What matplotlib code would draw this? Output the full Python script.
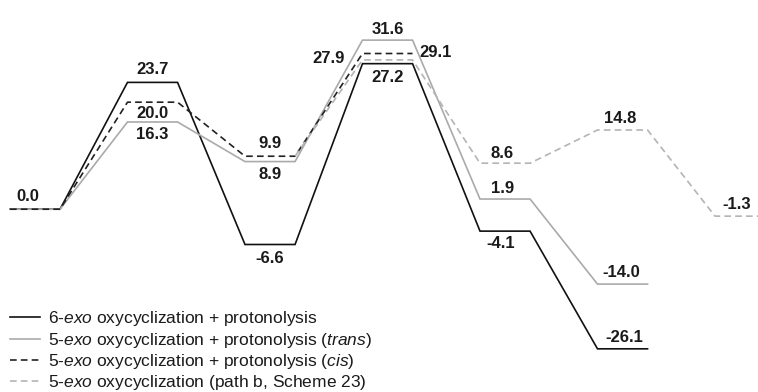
import numpy as np
import matplotlib
matplotlib.use("Agg")
import matplotlib.pyplot as plt

plt.rcParams['font.family'] = ['Liberation Sans', 'DejaVu Sans']
plt.rcParams['mathtext.fontset'] = 'custom'
plt.rcParams['mathtext.rm'] = 'Liberation Sans'
plt.rcParams['mathtext.it'] = 'Liberation Sans:italic'

nan = np.nan

# relative energies (kcal/mol) for each stationary point, per pathway
six_exo = [0.0, 23.7, -6.6, 27.2, -4.1, -26.1, nan]
trans_5exo = [0.0, 16.3, 8.9, 31.6, 1.9, -14.0, nan]
cis_5exo = [0.0, 20.0, 9.9, 29.1, nan, nan, nan]
path_b = [nan, nan, 9.9, 27.9, 8.6, 14.8, -1.3]

series_names = [
    "6-$\\mathit{exo}$ oxycyclization + protonolysis",
    "5-$\\mathit{exo}$ oxycyclization + protonolysis ($\\mathit{trans}$)",
    "5-$\\mathit{exo}$ oxycyclization + protonolysis ($\\mathit{cis}$)",
    "5-$\\mathit{exo}$ oxycyclization (path b, Scheme 23)",
]

half = 0.213  # half width of a level bar (stage units)


def build_path(vals, skip_first_level=False):
    xs, ys = [], []
    first = True
    for i, v in enumerate(vals):
        if np.isnan(v):
            continue
        if first and skip_first_level:
            # path b branches off the end of the cis intermediate
            xs += [i + half]
            ys += [v]
        else:
            xs += [i - half, i + half]
            ys += [v, v]
        first = False
    return xs, ys


fig = plt.figure(figsize=(7.58, 3.92), dpi=100)
ax = fig.add_axes([0, 0, 1, 1])
ax.set_xlim(-0.298, 6.153)
ax.set_ylim(-34.17, 39.10)
ax.axis('off')

styles = [
    dict(color='#111111', lw=1.2, ls='-'),
    dict(color='#aaaaaa', lw=1.2, ls='-'),
    dict(color='#222222', lw=1.2, ls=(0, (4, 2.5))),
    dict(color='#b4b4b4', lw=1.2, ls=(0, (4, 2.5))),
]

all_series = [six_exo, trans_5exo, cis_5exo, path_b]
for k, vals in enumerate(all_series):
    xs, ys = build_path(vals, skip_first_level=(k == 3))
    ax.plot(xs, ys, label=series_names[k], solid_joinstyle='miter', **styles[k])

# label placement: (series index, stage, dx px, dy px, ha)
label_spots = [
    (0, 0, -7, 12.7, 'center'),
    (0, 1, 0, 13, 'center'),
    (2, 1, 0, -11, 'center'),
    (1, 1, 0, -13, 'center'),
    (2, 2, 0, 13, 'center'),
    (1, 2, 0, -13, 'center'),
    (0, 2, 0, -14, 'center'),
    (1, 3, 0, 11, 'center'),
    (2, 3, 32, 1, 'left'),
    (3, 3, -43, 1, 'right'),
    (0, 3, 0, -14, 'center'),
    (3, 4, -3, 10, 'center'),
    (1, 4, -2, 11, 'center'),
    (0, 4, -4, -12, 'center'),
    (3, 5, -2, 12, 'center'),
    (1, 5, -1, 12, 'center'),
    (0, 5, 2, 11, 'center'),
    (3, 6, -3, 12, 'center'),
]
for k, stage, dx, dy, ha in label_spots:
    v = all_series[k][stage]
    ax.annotate(f"{v:.1f}", xy=(stage, v), xytext=(dx * 0.72, dy * 0.72),
                textcoords='offset points', ha=ha, va='center',
                fontsize=12, fontweight='bold', color='#1a1a1a')

ax.legend(loc='lower left', bbox_to_anchor=(0.0, -0.025), frameon=False,
          fontsize=12.5, handlelength=1.75, handletextpad=0.45,
          labelspacing=0.13, borderaxespad=0.15, labelcolor='#1a1a1a')

fig.savefig("out.png", dpi=100)
